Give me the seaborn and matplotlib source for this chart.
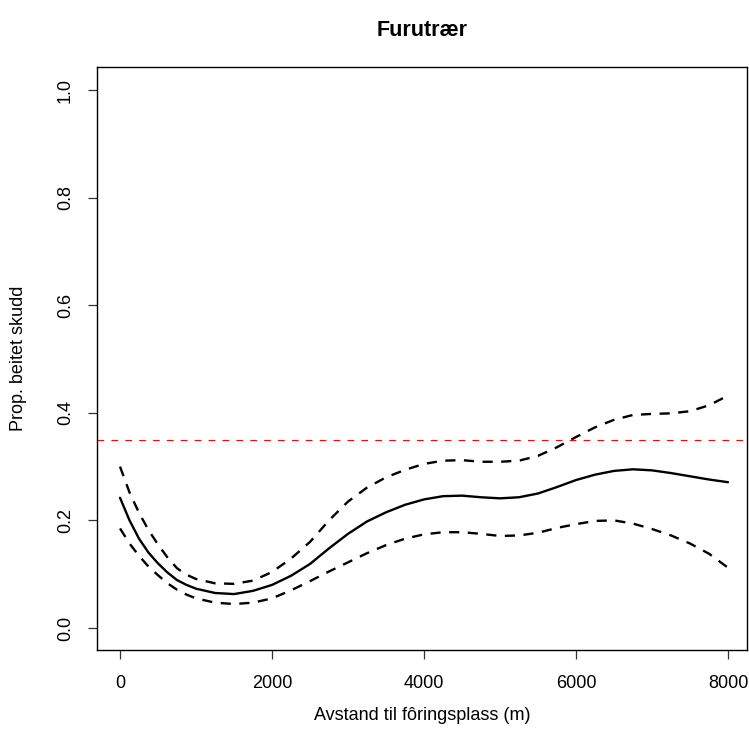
import matplotlib
matplotlib.use("Agg")
import matplotlib.pyplot as plt
import seaborn as sns
import pandas as pd

# ---- data ----
distance = [0, 125, 250, 375, 500, 625, 750, 875, 1000, 1250, 1500, 1750, 2000,
            2250, 2500, 2750, 3000, 3250, 3500, 3750, 4000, 4250, 4500, 4750,
            5000, 5250, 5500, 5750, 6000, 6250, 6500, 6750, 7000, 7250, 7500,
            7750, 8000]
fit = [0.242, 0.200, 0.166, 0.140, 0.120, 0.103, 0.089, 0.080, 0.073, 0.065,
       0.063, 0.069, 0.080, 0.097, 0.119, 0.148, 0.175, 0.198, 0.215, 0.229,
       0.239, 0.245, 0.246, 0.243, 0.241, 0.243, 0.250, 0.262, 0.275, 0.285,
       0.292, 0.295, 0.293, 0.288, 0.282, 0.276, 0.271]
upper = [0.300, 0.252, 0.214, 0.182, 0.155, 0.131, 0.111, 0.099, 0.091, 0.083,
         0.082, 0.088, 0.104, 0.129, 0.160, 0.200, 0.235, 0.261, 0.280, 0.294,
         0.305, 0.311, 0.312, 0.309, 0.309, 0.311, 0.320, 0.336, 0.355, 0.373,
         0.387, 0.396, 0.398, 0.399, 0.403, 0.414, 0.432]
lower = [0.185, 0.157, 0.134, 0.114, 0.098, 0.083, 0.071, 0.062, 0.055, 0.047,
         0.0445, 0.047, 0.055, 0.070, 0.087, 0.105, 0.122, 0.139, 0.154, 0.166,
         0.174, 0.178, 0.178, 0.175, 0.171, 0.172, 0.177, 0.186, 0.193, 0.199,
         0.200, 0.194, 0.184, 0.172, 0.157, 0.138, 0.112]
reference_level = 0.35
x_ticks = [0, 2000, 4000, 6000, 8000]
y_ticks = [0.0, 0.2, 0.4, 0.6, 0.8, 1.0]
title = "Furutrær"
x_label = "Avstand til fôringsplass (m)"
y_label = "Prop. beitet skudd"

df = pd.DataFrame({"distance": distance, "fit": fit, "upper": upper, "lower": lower})

sns.set_theme(style="white")
plt.rcParams["font.family"] = ["Liberation Sans", "DejaVu Sans"]
plt.rcParams["text.color"] = "black"
plt.rcParams["lines.solid_capstyle"] = "round"
plt.rcParams["lines.solid_joinstyle"] = "round"

W, H = 749, 740
fig = plt.figure(figsize=(W / 100, H / 100), dpi=100)
L, R, T, B = 97, 747, 67, 650
ax = fig.add_axes([L / W, 1 - B / H, (R - L) / W, (B - T) / H])

sns.lineplot(data=df, x="distance", y="fit", ax=ax, color="black",
             linewidth=1.7, sort=False, estimator=None)
for col in ("upper", "lower"):
    sns.lineplot(data=df, x="distance", y=col, ax=ax, color="black",
                 linewidth=1.7, sort=False, estimator=None)
    ax.lines[-1].set_dashes((4.3, 3.6))
ax.axhline(reference_level, color="#FF0000", linewidth=0.8, dashes=(6, 6.5))

ax.set_xlim(-303, 8250)
ax.set_ylim(-0.041, 1.043)
ax.set_xticks(x_ticks)
ax.set_xticklabels([str(v) for v in x_ticks])
ax.set_yticks(y_ticks)
ax.set_yticklabels([f"{v:.1f}" for v in y_ticks], rotation=90, va="center")

for s in ax.spines.values():
    s.set_visible(True)
    s.set_color("black")
    s.set_linewidth(1.0)

ax.tick_params(axis="both", which="major", direction="out", length=6.2,
               width=0.9, color="#333333", labelsize=13, labelcolor="black",
               bottom=True, left=True)
ax.tick_params(axis="x", pad=12.0)
ax.tick_params(axis="y", pad=10.4)

ax.set_xlabel(x_label, fontsize=13, color="black")
ax.set_ylabel(y_label, fontsize=13, color="black")
ax.xaxis.set_label_coords(0.5, (B - 716) / (B - T))
ax.xaxis.label.set_va("center")
ax.yaxis.set_label_coords((19 - L) / (R - L), 0.5)
ax.yaxis.label.set_va("center")

ax.text(0.5, (B - 31) / (B - T), title, transform=ax.transAxes,
        ha="center", va="center", fontsize=15.5, fontweight="bold",
        color="black")

fig.savefig("out.png", dpi=100)
